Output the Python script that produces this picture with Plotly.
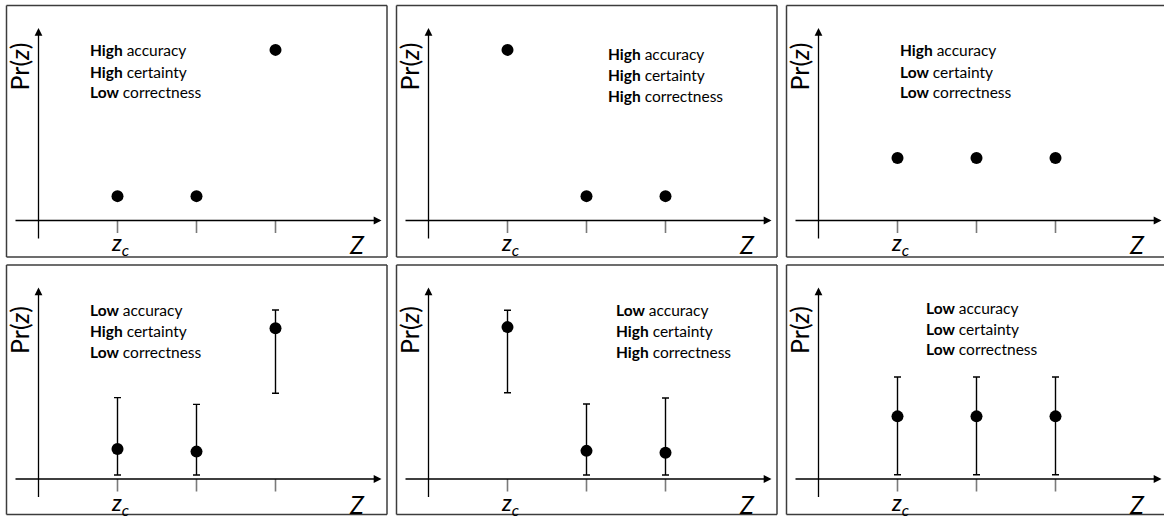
import plotly.graph_objects as go

W, H = 1164, 517

# ---- data ----
z_positions = [1, 2, 3]
tick_labels = ["<i>z</i><sub><i>c</i></sub>", "", ""]

p1_values = [0.13, 0.13, 0.91]
p2_values = [0.91, 0.13, 0.13]
p3_values = [0.333, 0.333, 0.333]

p4_values = [0.16, 0.146, 0.804]
p4_upper = [0.434, 0.398, 0.901]
p4_lower = [0.021, 0.021, 0.457]

p5_values = [0.81, 0.15, 0.14]
p5_upper = [0.90, 0.40, 0.432]
p5_lower = [0.46, 0.021, 0.021]

p6_values = [0.334, 0.334, 0.334]
p6_upper = [0.544, 0.544, 0.544]
p6_lower = [0.023, 0.023, 0.023]

p1_labels = [("High", "accuracy"), ("High", "certainty"), ("Low", "correctness")]
p2_labels = [("High", "accuracy"), ("High", "certainty"), ("High", "correctness")]
p3_labels = [("High", "accuracy"), ("Low", "certainty"), ("Low", "correctness")]
p4_labels = [("Low", "accuracy"), ("High", "certainty"), ("Low", "correctness")]
p5_labels = [("Low", "accuracy"), ("High", "certainty"), ("High", "correctness")]
p6_labels = [("Low", "accuracy"), ("Low", "certainty"), ("Low", "correctness")]

y_axis_label = "Pr(<i>z</i>)"
x_axis_label = "<i>Z</i>"

# ---- layout geometry (pixels) ----
FONT = "Lato"
col_left = [6.5, 396.5, 786.5]
panel_w = 380.5
row_top = [5.5, 265.0]
row_bot = [257.0, 514.5]
axis_rel = [215.0, 214.0]      # x-axis line, px from panel top
X1_REL = 111.0                 # px of z=1 from panel left
PX_X = 79.0                    # px per z unit
PX_Y = 187.5                   # px per probability unit

panels = [
    dict(vals=p1_values, labels=p1_labels, tx=81.5, ty=[44.5, 66.3, 86.8]),
    dict(vals=p2_values, labels=p2_labels, tx=209.0, ty=[48.8, 69.5, 90.2]),
    dict(vals=p3_values, labels=p3_labels, tx=111.5, ty=[44.5, 66.3, 87.0]),
    dict(vals=p4_values, up=p4_upper, lo=p4_lower, labels=p4_labels, tx=81.5, ty=[45, 66, 86.5]),
    dict(vals=p5_values, up=p5_upper, lo=p5_lower, labels=p5_labels, tx=217.5, ty=[45, 66, 87]),
    dict(vals=p6_values, up=p6_upper, lo=p6_lower, labels=p6_labels, tx=137.0, ty=[43, 63.5, 84]),
]

fig = go.Figure()
layout = dict(width=W, height=H, margin=dict(l=0, r=0, t=0, b=0),
              paper_bgcolor="white", plot_bgcolor="white", showlegend=False,
              hovermode=False)
annotations = []
shapes = []


def dx(rel):
    return 1 + (rel - X1_REL) / PX_X


FRAME = dict(color="#3c3c3c", width=1.5)

for i, p in enumerate(panels):
    r, c = divmod(i, 3)
    n = i + 1
    xa = "xaxis" if n == 1 else f"xaxis{n}"
    ya = "yaxis" if n == 1 else f"yaxis{n}"
    xr = "x" if n == 1 else f"x{n}"
    yr = "y" if n == 1 else f"y{n}"
    L = col_left[c]
    R = min(L + panel_w, W)
    T, B = row_top[r], row_bot[r]
    ar = axis_rel[r]
    layout[xa] = dict(domain=[L / W, R / W], range=[dx(0), dx(R - L)], visible=False,
                      anchor=yr, fixedrange=True)
    layout[ya] = dict(domain=[1 - B / H, 1 - T / H], range=[-(B - T - ar) / PX_Y, ar / PX_Y],
                      visible=False, anchor=xr, fixedrange=True)
    dy = lambda rel, ar=ar: (ar - rel) / PX_Y

    # panel frame (rightmost column runs off the picture edge)
    x0 = L / W
    y0, y1 = 1 - B / H, 1 - T / H
    x1 = (L + panel_w) / W if c < 2 else 1.05
    shapes.append(dict(type="line", xref="paper", yref="paper", x0=x0, x1=x1, y0=y1, y1=y1,
                       line=FRAME, layer="above"))
    shapes.append(dict(type="line", xref="paper", yref="paper", x0=x0, x1=x1, y0=y0, y1=y0,
                       line=FRAME, layer="above"))
    shapes.append(dict(type="line", xref="paper", yref="paper", x0=x0, x1=x0, y0=y0, y1=y1,
                       line=FRAME, layer="above"))
    if c < 2:
        shapes.append(dict(type="line", xref="paper", yref="paper", x0=x1, x1=x1, y0=y0, y1=y1,
                           line=FRAME, layer="above"))

    # tick marks
    tx, ty = [], []
    for z in z_positions:
        tx += [z, z, None]
        ty += [0, dy(ar + 12.5), None]
    fig.add_trace(go.Scatter(x=tx, y=ty, mode="lines", xaxis=xr, yaxis=yr,
                             line=dict(color="#7a7a7a", width=1.6)))

    # axes arrows
    annotations.append(dict(x=dx(375), y=0, ax=dx(7.5), ay=0, xref=xr, yref=yr,
                            axref=xr, ayref=yr, text="", showarrow=True, arrowhead=2,
                            arrowsize=1.2, arrowwidth=1.3, arrowcolor="black"))
    annotations.append(dict(x=0, y=dy(22.5), ax=0, ay=dy(ar + 19.5), xref=xr, yref=yr,
                            axref=xr, ayref=yr, text="", showarrow=True, arrowhead=2,
                            arrowsize=1.2, arrowwidth=1.3, arrowcolor="black"))

    # points (with error bars in bottom row)
    kw = {}
    if "up" in p:
        kw["error_y"] = dict(type="data", symmetric=False,
                             array=[u - v for u, v in zip(p["up"], p["vals"])],
                             arrayminus=[v - l for v, l in zip(p["vals"], p["lo"])],
                             color="black", thickness=1.4, width=3.5)
    fig.add_trace(go.Scatter(x=z_positions, y=p["vals"], mode="markers", xaxis=xr, yaxis=yr,
                             marker=dict(color="black", size=12), **kw))

    # description text
    for (b, rest), yy in zip(p["labels"], p["ty"]):
        annotations.append(dict(x=dx(p["tx"]), y=dy(yy), xref=xr, yref=yr, xanchor="left",
                                yanchor="middle", showarrow=False,
                                text=f"<b>{b}</b> {rest}",
                                font=dict(family=FONT, size=15.5, color="black")))

    # axis labels
    annotations.append(dict(x=dx(12.5), y=dy(61 if r == 0 else 65), xref=xr, yref=yr,
                            showarrow=False, textangle=-90, text=y_axis_label,
                            xanchor="center", yanchor="middle",
                            font=dict(family=FONT, size=25, color="black")))
    annotations.append(dict(x=dx(350.5), y=dy(239), xref=xr, yref=yr, showarrow=False,
                            text=x_axis_label, xanchor="center", yanchor="middle",
                            font=dict(family=FONT, size=25, color="black")))
    for z, lab in zip(z_positions, tick_labels):
        if lab:
            annotations.append(dict(x=z + 0.03, y=dy(238), xref=xr, yref=yr, showarrow=False,
                                    text=lab, xanchor="center", yanchor="middle",
                                    font=dict(family=FONT, size=23, color="black")))

layout["annotations"] = annotations
layout["shapes"] = shapes
fig.update_layout(**layout)
fig.write_html("out.html", config={"displayModeBar": False},
               post_script="document.body.style.margin='0';document.body.style.overflow='hidden';")
